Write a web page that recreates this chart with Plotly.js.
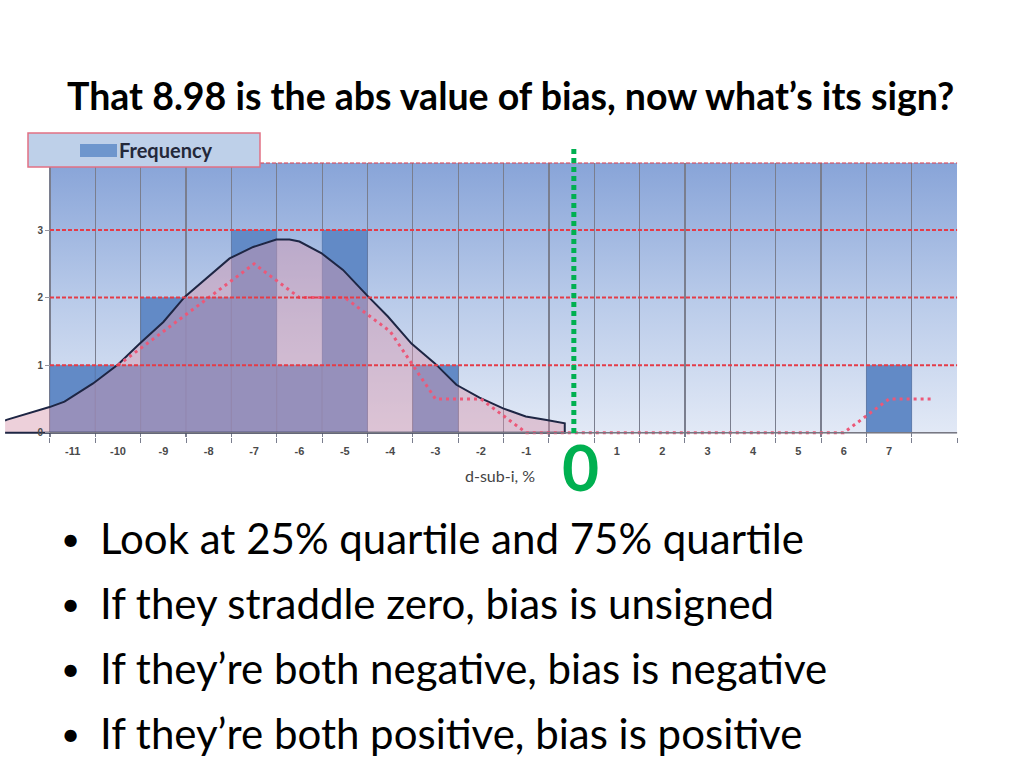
<!DOCTYPE html>
<html>
<head>
<meta charset="utf-8">
<script src="https://cdn.plot.ly/plotly-3.0.1.min.js"></script>
<style>
  html, body { margin: 0; padding: 0; background: #fff; }
  #chart { width: 1024px; height: 768px; }
</style>
</head>
<body>
<div id="chart"></div>
<script>
// histogram of d-sub-i, %  (categories -11 .. 8)
const categories = [-11, -10, -9, -8, -7, -6, -5, -4, -3, -2, -1, 0, 1, 2, 3, 4, 5, 6, 7, 8];
const frequency  = [1, 1, 2, 2, 3, 1, 3, 0, 1, 0, 0, 0, 0, 0, 0, 0, 0, 0, 1, 0];

// dotted moving-average line, starts at the second category
const avgX = [-10, -9, -8, -7, -6, -5, -4, -3, -2, -1, 0, 1, 2, 3, 4, 5, 6, 7, 8];
const avgY = [1, 1.5, 2, 2.5, 2, 2, 1.5, 0.5, 0.5, 0, 0, 0, 0, 0, 0, 0, 0, 0.5, 0.5];

// fitted bell curve outline, closed along zero
const curveX = [-12.49, -12.46, -11.51, -11.18, -10.55, -10.0, -9.52, -9.0, -8.53, -8.02, -7.54, -7.02,
                -6.51, -6.22, -6.0, -5.52, -5.04, -4.52, -4.05, -3.53, -3.02, -2.54, -2.03, -1.51,
                -1.01, -0.55, -0.15, -0.15, -12.49];
const curveY = [0.18, 0.19, 0.38, 0.46, 0.73, 1.01, 1.32, 1.64, 2.01, 2.31, 2.58, 2.75,
                2.86, 2.86, 2.83, 2.66, 2.41, 2.04, 1.72, 1.32, 1.03, 0.71, 0.52, 0.36,
                0.24, 0.19, 0.14, 0, 0];

// x tick labels: the zero slot is left for the big green 0, the last slot is blank
const labelVals = [-11, -10, -9, -8, -7, -6, -5, -4, -3, -2, -1, 1, 2, 3, 4, 5, 6, 7];
const labelText = labelVals.map(String);
const yTicks = [0, 1, 2, 3];

const bullets = [
  'Look at 25% quartile and 75% quartile',
  'If they straddle zero, bias is unsigned',
  'If they\u2019re both negative, bias is negative',
  'If they\u2019re both positive, bias is positive'
];

const W = 1024, H = 768;
const px = x => x / W;        // pixel -> paper (x)
const py = y => 1 - y / H;    // pixel -> paper (y)

const xRange = [-12.492, 8.52];
const first = categories[0] - 0.5;
const last = categories[categories.length - 1] + 0.5;

// vertical gradient for the plot background
const gradSvg = "<svg xmlns='http://www.w3.org/2000/svg' width='10' height='100' viewBox='0 0 10 100' preserveAspectRatio='none'>" +
  "<defs><linearGradient id='g' x1='0' y1='0' x2='0' y2='1'>" +
  "<stop offset='0' stop-color='rgb(136,164,216)'/><stop offset='0.5' stop-color='rgb(184,202,233)'/>" +
  "<stop offset='1' stop-color='rgb(226,233,246)'/></linearGradient></defs>" +
  "<rect width='10' height='100' fill='url(#g)'/></svg>";

const traces = [
  {
    type: 'bar', x: categories, y: frequency, width: 1,
    marker: { color: 'rgb(98,138,198)', line: { color: 'rgba(70,100,150,0.5)', width: 0.5 } },
    hoverinfo: 'skip', showlegend: false
  },
  {
    type: 'scatter', mode: 'lines', x: curveX, y: curveY,
    fill: 'toself', fillcolor: 'rgba(215,150,172,0.45)',
    line: { color: 'rgb(30,38,68)', width: 2 },
    hoverinfo: 'skip', showlegend: false
  },
  {
    type: 'scatter', mode: 'lines', x: avgX, y: avgY,
    line: { color: 'rgb(236,88,120)', width: 3, dash: '3px,4px' },
    hoverinfo: 'skip', showlegend: false
  }
];

const shapes = [];
// horizontal grid
[1, 2, 3, 4].forEach(v => shapes.push({
  type: 'line', xref: 'x', yref: 'y', x0: first, x1: last, y0: v, y1: v,
  line: { color: 'rgb(228,60,72)', width: 2, dash: '4px,2px' }, layer: 'above'
}));
shapes.push({
  type: 'line', xref: 'x', yref: 'y', x0: first, x1: last, y0: 0, y1: 0,
  line: { color: 'rgb(120,120,130)', width: 1.5 }, layer: 'above'
});
// green zero marker
shapes.push({
  type: 'line', xref: 'x', yref: 'paper', x0: 0.05, x1: 0.05, y0: py(433), y1: py(148),
  line: { color: '#00B050', width: 5, dash: '5px,4px' }, layer: 'above'
});
// legend box
shapes.push({
  type: 'rect', xref: 'paper', yref: 'paper', x0: px(28), x1: px(260), y0: py(167), y1: py(133),
  fillcolor: 'rgb(190,208,233)', line: { color: 'rgb(226,112,132)', width: 1.5 }, layer: 'above'
});
shapes.push({
  type: 'rect', xref: 'paper', yref: 'paper', x0: px(80), x1: px(117), y0: py(157), y1: py(144),
  fillcolor: 'rgb(110,150,205)', line: { width: 0 }, layer: 'above'
});

const annotations = [
  { xref: 'paper', yref: 'paper', x: px(117), y: py(150), xanchor: 'left', yanchor: 'middle',
    text: 'Frequency', showarrow: false,
    font: { family: 'Lato', size: 20, weight: 'bold', color: '#24283a' } },
  { xref: 'x', yref: 'paper', x: -1.57, y: py(475), xanchor: 'center', yanchor: 'middle',
    text: 'd-sub-i, %', showarrow: false,
    font: { family: 'Lato', size: 16, color: '#444' } },
  { xref: 'x', yref: 'paper', x: 0, y: py(466), xanchor: 'center', yanchor: 'middle', xshift: 9,
    text: '0', showarrow: false,
    font: { family: 'Lato', size: 64, weight: 'bold', color: '#00B050' } }
];
bullets.forEach((t, i) => {
  const yc = 538 + i * 65;
  annotations.push({ xref: 'paper', yref: 'paper', x: px(70), y: py(yc), xanchor: 'center', yanchor: 'middle',
    text: '\u2022', showarrow: false, font: { family: 'Lato', size: 33, color: '#000' } });
  annotations.push({ xref: 'paper', yref: 'paper', x: px(98), y: py(yc), xanchor: 'left', yanchor: 'middle',
    text: t, showarrow: false, font: { family: 'Lato', size: 42, color: '#000' } });
});

const layout = {
  width: W, height: H,
  margin: { l: 0, r: 0, t: 0, b: 0 },
  paper_bgcolor: '#fff', plot_bgcolor: 'rgba(0,0,0,0)',
  showlegend: false,
  bargap: 0,
  title: {
    text: 'That 8.98 is the abs value of bias, now what\u2019s its sign?',
    font: { family: 'Lato', size: 37.5, weight: 'bold', color: '#000' },
    xref: 'paper', x: px(67), xanchor: 'left', yref: 'paper', y: py(97), yanchor: 'middle'
  },
  xaxis: {
    domain: [px(5), px(958)], range: xRange,
    tickvals: labelVals, ticktext: labelText,
    ticks: '', ticklabelstandoff: 6,
    tickfont: { family: 'Liberation Sans', size: 11, weight: 'bold', color: '#4a4a4a' },
    showgrid: false, zeroline: false, showline: false,
    minor: {
      tickmode: 'linear', tick0: 0.5, dtick: 1,
      showgrid: true, gridcolor: 'rgb(122,126,142)', gridwidth: 1.2,
      ticks: 'outside', ticklen: 5, tickcolor: 'rgb(122,126,142)'
    },
    layer: 'above traces'
  },
  yaxis: {
    domain: [py(436.8), py(162.5)], range: [-0.06, 4],
    anchor: 'free', position: px(50),
    tickvals: yTicks, ticktext: yTicks.map(String),
    showgrid: false, zeroline: false, showline: false,
    ticks: 'outside', ticklen: 5, tickcolor: 'rgb(150,150,160)',
    tickfont: { family: 'Liberation Sans', size: 10, weight: 'bold', color: '#4a4a4a' }
  },
  images: [{
    source: 'data:image/svg+xml;charset=utf-8,' + encodeURIComponent(gradSvg),
    xref: 'x', yref: 'y', x: first, y: 4, sizex: last - first, sizey: 4,
    xanchor: 'left', yanchor: 'top', sizing: 'stretch', layer: 'below'
  }],
  shapes: shapes,
  annotations: annotations
};

Plotly.newPlot('chart', traces, layout, { staticPlot: true, displayModeBar: false, responsive: false });
</script>
</body>
</html>
